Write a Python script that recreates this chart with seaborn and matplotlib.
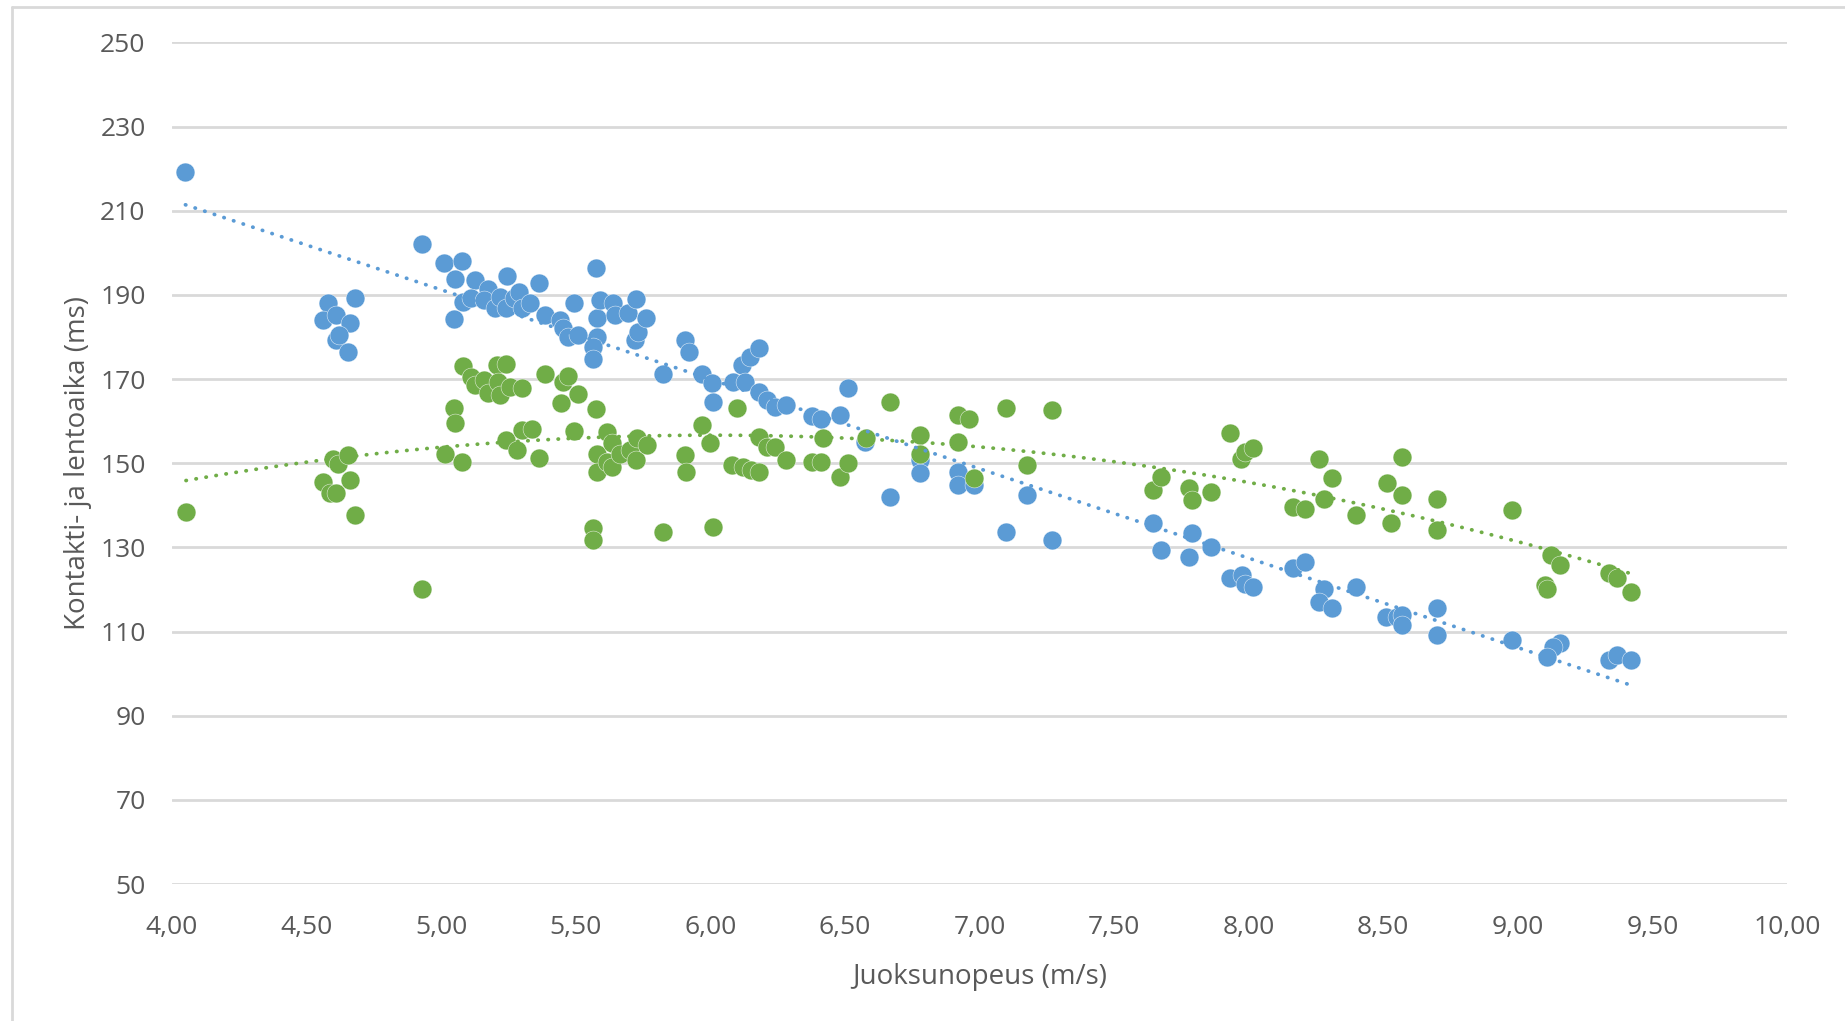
import numpy as np
import pandas as pd
import matplotlib
matplotlib.use("Agg")
import matplotlib.pyplot as plt
from matplotlib.lines import Line2D
from matplotlib.ticker import FuncFormatter
import seaborn as sns

# Contact time (blue)
blue_x = [4.05, 4.58, 4.56, 4.61, 4.66, 4.68, 4.61, 4.62, 4.655, 4.93,
          5.01, 5.076, 5.05, 5.047, 5.08, 5.125, 5.175, 5.11, 5.16, 5.20,
          5.22, 5.245, 5.24, 5.27, 5.29, 5.30, 5.33, 5.365, 5.385, 5.44,
          5.453, 5.47, 5.51, 5.495, 5.575, 5.578, 5.578, 5.565, 5.563, 5.59,
          5.64, 5.646, 5.695, 5.724, 5.72, 5.73, 5.76, 5.825, 5.906, 5.92,
          5.97, 6.005, 6.01, 6.085, 6.116, 6.147, 6.18, 6.13, 6.18, 6.21,
          6.24, 6.28, 6.376, 6.41, 6.48, 6.51, 6.574, 6.667, 6.78, 6.78,
          6.92, 6.92, 6.98, 7.10, 7.175, 7.27, 7.646, 7.676, 7.79, 7.78,
          7.86, 7.93, 7.974, 7.986, 8.017, 8.166, 8.21, 8.28, 8.26, 8.31,
          8.40, 8.51, 8.55, 8.57, 8.57, 8.70, 8.70, 8.98, 9.156, 9.13,
          9.11, 9.34, 9.37, 9.42]
blue_y = [219.3, 188.0, 184.0, 185.2, 183.2, 189.3, 179.3, 180.5, 176.5, 202.0,
          197.6, 198.0, 193.7, 184.2, 188.4, 193.5, 191.5, 189.2, 188.8, 186.8,
          189.6, 194.5, 186.8, 189.2, 190.7, 186.8, 188.0, 192.9, 185.2, 184.0,
          182.1, 180.1, 180.5, 188.1, 196.4, 184.4, 180.0, 177.7, 174.7, 188.8,
          188.0, 185.2, 185.6, 189.0, 179.3, 181.2, 184.4, 171.3, 179.3, 176.5,
          171.3, 169.0, 164.6, 169.3, 173.3, 175.3, 177.3, 169.3, 167.0, 165.0,
          163.4, 163.8, 161.3, 160.6, 161.4, 167.8, 155.1, 142.0, 150.7, 147.6,
          148.0, 144.8, 144.8, 133.7, 142.4, 131.7, 135.7, 129.3, 133.3, 127.8,
          130.1, 122.6, 123.4, 121.4, 120.6, 125.0, 126.6, 120.2, 117.0, 115.5,
          120.6, 113.5, 113.5, 113.9, 111.5, 115.5, 109.1, 107.9, 107.2, 106.4,
          104.0, 103.2, 104.4, 103.2]

# Flight time (green)
green_x = [4.052, 4.56, 4.587, 4.61, 4.60, 4.618, 4.655, 4.66, 4.68, 4.93,
           5.014, 5.047, 5.05, 5.076, 5.08, 5.11, 5.125, 5.16, 5.175, 5.206,
           5.24, 5.21, 5.22, 5.255, 5.30, 5.24, 5.28, 5.30, 5.336, 5.365,
           5.385, 5.444, 5.453, 5.47, 5.51, 5.495, 5.575, 5.565, 5.565, 5.578,
           5.578, 5.615, 5.633, 5.615, 5.633, 5.664, 5.70, 5.724, 5.726, 5.763,
           5.825, 5.906, 5.91, 5.97, 6.00, 6.01, 6.10, 6.08, 6.12, 6.15,
           6.18, 6.18, 6.21, 6.24, 6.28, 6.376, 6.41, 6.42, 6.48, 6.51,
           6.58, 6.667, 6.78, 6.78, 6.92, 6.96, 6.92, 6.98, 7.10, 7.175,
           7.27, 7.646, 7.676, 7.78, 7.79, 7.86, 7.93, 7.97, 7.986, 8.017,
           8.166, 8.21, 8.26, 8.31, 8.28, 8.40, 8.515, 8.57, 8.57, 8.53,
           8.70, 8.70, 8.98, 9.10, 9.11, 9.125, 9.156, 9.34, 9.37, 9.42]
green_y = [138.4, 145.6, 142.8, 142.8, 151.0, 149.9, 151.9, 146.0, 137.7, 120.2,
           152.3, 163.0, 159.5, 150.3, 173.2, 170.5, 168.6, 169.8, 166.6, 173.3,
           173.5, 169.3, 166.2, 168.2, 167.8, 155.5, 153.1, 157.9, 158.1, 151.2,
           171.2, 164.4, 169.3, 170.8, 166.4, 157.6, 162.8, 134.5, 131.7, 152.3,
           148.0, 157.5, 154.7, 150.3, 149.1, 152.3, 153.1, 150.7, 155.9, 154.3,
           133.7, 151.9, 148.0, 159.1, 154.7, 134.9, 163.0, 149.5, 149.1, 148.5,
           148.0, 156.3, 153.9, 153.8, 150.7, 150.3, 150.3, 156.0, 146.8, 150.0,
           155.9, 164.6, 156.7, 152.3, 161.4, 160.4, 155.1, 146.4, 163.0, 149.5,
           162.6, 143.6, 146.8, 144.2, 141.2, 143.2, 157.1, 151.1, 152.7, 153.5,
           139.6, 139.2, 150.9, 146.4, 141.6, 137.7, 145.2, 151.5, 142.4, 135.7,
           141.6, 134.1, 138.9, 121.0, 120.2, 128.2, 125.8, 123.8, 122.6, 119.4]

x_ticks = [4.0, 4.5, 5.0, 5.5, 6.0, 6.5, 7.0, 7.5, 8.0, 8.5, 9.0, 9.5, 10.0]
y_ticks = [50, 70, 90, 110, 130, 150, 170, 190, 210, 230, 250]

blue = "#5B9BD5"
green = "#70AD47"
grey_text = "#595959"
grid_col = "#D9D9D9"

df_blue = pd.DataFrame({"x": blue_x, "y": blue_y})
df_green = pd.DataFrame({"x": green_x, "y": green_y})

sns.set_style("white")
plt.rcParams["font.family"] = ["Open Sans", "DejaVu Sans"]

fig = plt.figure(figsize=(18.45, 10.21), dpi=100)
ax = fig.add_axes([172 / 1845, 1 - 884 / 1021, (1787 - 172) / 1845, (884 - 42.4) / 1021])

# points
sns.scatterplot(data=df_blue, x="x", y="y", ax=ax, color=blue, s=185,
                edgecolor="white", linewidth=0.3, zorder=3)
sns.scatterplot(data=df_green, x="x", y="y", ax=ax, color=green, s=185,
                edgecolor="white", linewidth=0.3, zorder=3)

# trendlines (linear for contact time, 2nd order for flight time)
dot = (0, (0.1, 2.6))
sns.regplot(data=df_blue, x="x", y="y", ax=ax, scatter=False, ci=None, order=1,
            line_kws=dict(color=blue, lw=2.7, linestyle=dot, dash_capstyle="round", zorder=4))
sns.regplot(data=df_green, x="x", y="y", ax=ax, scatter=False, ci=None, order=2,
            line_kws=dict(color=green, lw=2.7, linestyle=dot, dash_capstyle="round", zorder=4))

ax.set_xlim(4, 10)
ax.set_ylim(50, 250)
ax.set_xticks(x_ticks)
ax.set_yticks(y_ticks)
ax.xaxis.set_major_formatter(FuncFormatter(lambda v, p: f"{v:.2f}".replace(".", ",")))
ax.yaxis.grid(True, color=grid_col, lw=2.0)
ax.xaxis.grid(False)
ax.set_axisbelow(True)
for s in ax.spines.values():
    s.set_visible(False)
ax.tick_params(axis="both", length=0, labelsize=19, labelcolor=grey_text)
ax.tick_params(axis="y", pad=19)
ax.tick_params(axis="x", pad=22)

ax.set_xlabel("Juoksunopeus (m/s)", fontsize=20, color=grey_text)
ax.set_ylabel("Kontakti- ja lentoaika (ms)", fontsize=20, color=grey_text)
ax.xaxis.label.set_va("center")
ax.yaxis.label.set_va("center")
ax.xaxis.set_label_coords(0.5, -0.1105)
ax.yaxis.set_label_coords(-0.058, 0.5)

# chart border (left and top edges visible in the crop)
fig.add_artist(Line2D([12 / 1845, 12 / 1845], [0, 1 - 7 / 1021], transform=fig.transFigure,
                      color=grid_col, lw=2.0))
fig.add_artist(Line2D([12 / 1845, 1], [1 - 7 / 1021, 1 - 7 / 1021], transform=fig.transFigure,
                      color=grid_col, lw=2.0))

fig.savefig("out.png", dpi=100)
